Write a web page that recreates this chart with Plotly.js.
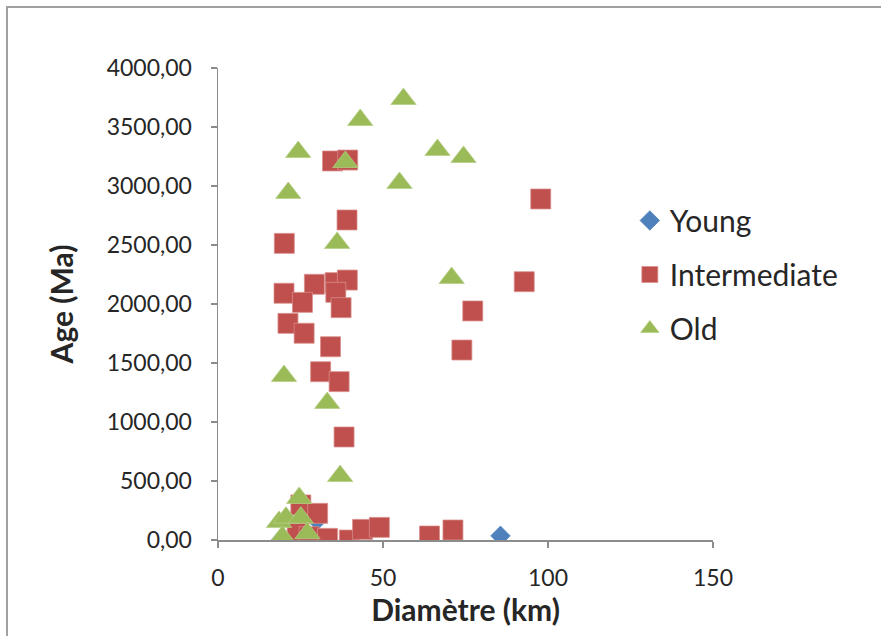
<!DOCTYPE html>
<html>
<head>
<meta charset="utf-8">
<script src="https://cdn.plot.ly/plotly-3.0.1.min.js"></script>
<style>
html,body{margin:0;padding:0;background:#fff;}
#chart{width:881px;height:636px;}
</style>
</head>
<body>
<div id="chart"></div>
<script>
// Young
var youngX = [19, 22, 30, 85.6];
var youngY = [0, 0, 165, 35];

// Intermediate
var interX = [97.8, 92.8, 77.2, 73.9, 34.7, 39.3, 39.1, 20.1, 20.0, 29.2, 35.5, 39.2, 35.7, 25.6, 37.3, 21.2, 26.1, 34.1, 31.1, 36.7, 38.2, 25.1, 30.2, 24.0, 27.6, 33.2, 39.8, 43.8, 48.9, 64.1, 71.2];
var interY = [2890, 2189, 1941, 1610, 3212, 3220, 2712, 2514, 2091, 2167, 2181, 2203, 2099, 2014, 1969, 1836, 1752, 1638, 1426, 1342, 873, 297, 226, 57, 28, 14, 0, 90, 107, 34, 85];

// Old
var oldX = [56.2, 43.1, 24.3, 66.5, 74.4, 38.6, 21.3, 55.0, 36.1, 70.8, 20.0, 33.1, 37.0, 24.6, 18.5, 20.6, 25.1, 19.5, 27.1];
var oldY = [3737, 3559, 3288, 3305, 3246, 3203, 2941, 3026, 2517, 2220, 1390, 1161, 542, 356, 153, 189, 189, 28, 57];

var seriesNames = ['Young', 'Intermediate', 'Old'];
var xTicks = [0, 50, 100, 150];
var yTicks = [0, 500, 1000, 1500, 2000, 2500, 3000, 3500, 4000];

var FONT = 'Lato, "Open Sans", sans-serif';

var traces = [
  {x: youngX, y: youngY, name: seriesNames[0], type: 'scatter', mode: 'markers', legendgroup: 'a',
   marker: {symbol: 'diamond', size: 15, color: '#4F81BD', line: {color: '#4A7EBB', width: 0.75}}},
  {x: interX, y: interY, name: seriesNames[1], type: 'scatter', mode: 'markers', legendgroup: 'b',
   marker: {symbol: 'square', size: 20, color: '#C0504D', line: {color: '#D9908E', width: 0.75}}},
  {x: oldX, y: oldY, name: seriesNames[2], type: 'scatter', mode: 'markers', legendgroup: 'c',
   marker: {symbol: 'triangle-up', size: 22, color: '#9BBB59', line: {color: '#B5CF85', width: 0.75}}}
];

var axisCommon = {
  showline: true, linecolor: '#8C8C8C', linewidth: 1.5,
  ticks: 'outside', ticklen: 6, tickcolor: '#8C8C8C', tickwidth: 1.5,
  showgrid: false, zeroline: false,
  tickfont: {family: FONT, size: 23, color: '#262626'}
};

var layout = {
  width: 881, height: 636,
  paper_bgcolor: '#ffffff', plot_bgcolor: '#ffffff',
  separators: ',.',
  margin: {l: 218, r: 168, t: 68, b: 96, pad: 0},
  font: {family: FONT, color: '#262626'},
  xaxis: Object.assign({}, axisCommon, {
    range: [0, 150], tickvals: xTicks, ticktext: xTicks.map(String),
    ticklabelstandoff: 11,
    title: {text: 'Diamètre (km)', font: {family: FONT, size: 30, color: '#262626', weight: 'bold'}, standoff: 10}
  }),
  yaxis: Object.assign({}, axisCommon, {
    range: [0, 4000], tickvals: yTicks, tickformat: '.2f',
    ticklabelstandoff: 14,
    title: {text: 'Age (Ma)', font: {family: FONT, size: 30, color: '#262626', weight: 'bold'}, standoff: 24}
  }),
  showlegend: true,
  legend: {
    x: 0.832, xanchor: 'left', y: 0.732, yanchor: 'top',
    font: {family: FONT, size: 30, color: '#262626'},
    traceorder: 'grouped', tracegroupgap: 12,
    bgcolor: 'rgba(0,0,0,0)', borderwidth: 0
  },
  shapes: [{
    type: 'rect', xref: 'paper', yref: 'paper', layer: 'above',
    x0: -0.4263, x1: 2, y0: -1, y1: 1.1292,
    line: {color: '#A0A0A0', width: 2}, fillcolor: 'rgba(0,0,0,0)'
  }]
};

Plotly.newPlot('chart', traces, layout, {displayModeBar: false, staticPlot: true});
</script>
</body>
</html>
